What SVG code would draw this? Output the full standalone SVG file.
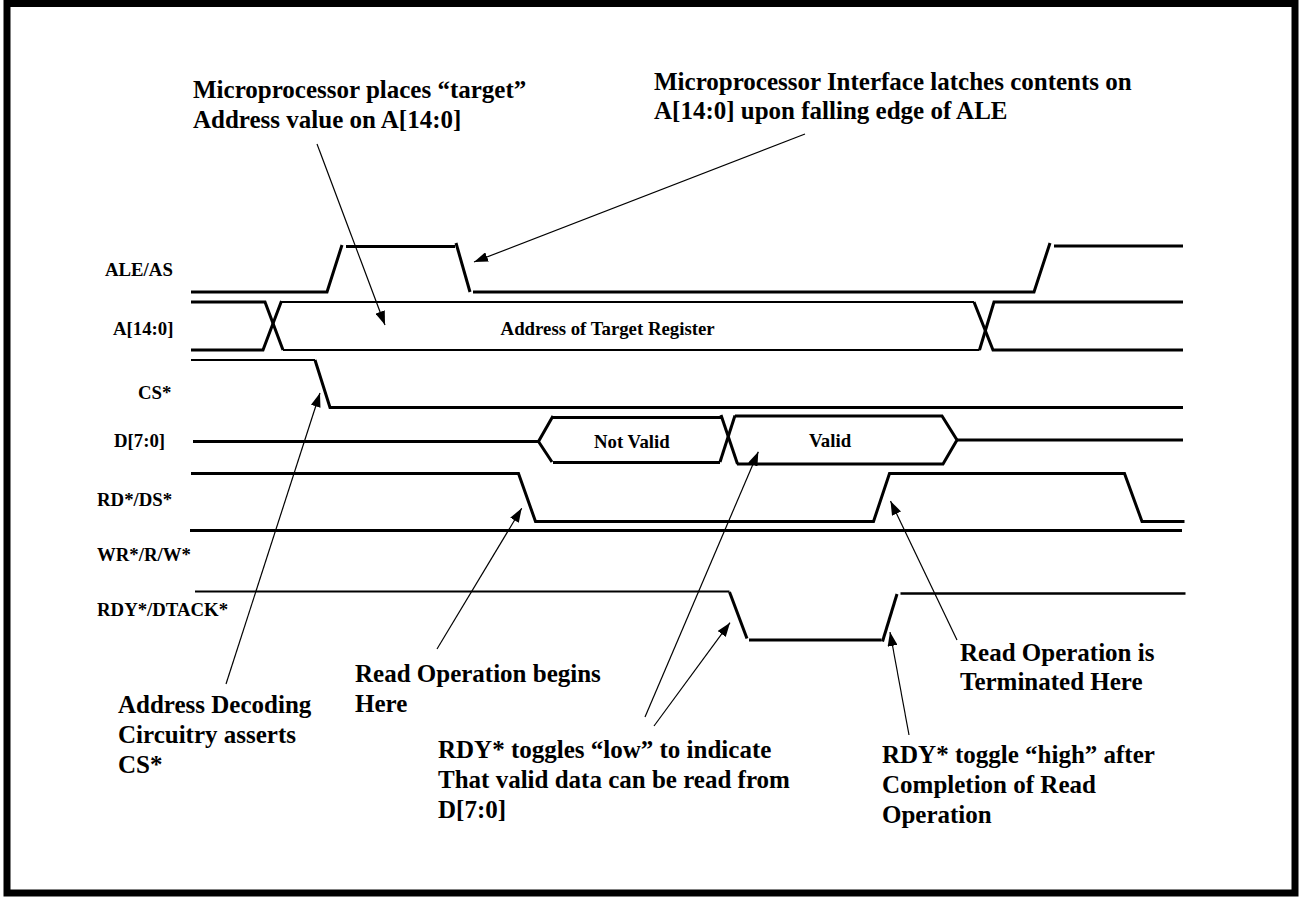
<svg xmlns="http://www.w3.org/2000/svg" width="1299" height="897" viewBox="0 0 1299 897">
<style>
.frame{fill:#fff;stroke:#000;stroke-width:7}
.sig{fill:none;stroke:#000;stroke-width:3;stroke-linejoin:miter;stroke-linecap:butt}
.thin{stroke-width:2.2}
.ptr{fill:none;stroke:#000;stroke-width:1.2;marker-end:url(#ah)}
text{font-family:"Liberation Serif","Times New Roman",serif;font-weight:bold;fill:#000}
.big{font-size:25px}
.lbl{font-size:18.8px}
</style>
<defs>
<marker id="ah" markerUnits="userSpaceOnUse" markerWidth="14" markerHeight="10" refX="14" refY="5" orient="auto">
<path d="M0,0 L14,5 L0,10 Z" fill="#000"/>
</marker>
</defs>
<rect class="frame" x="7" y="3.5" width="1288" height="889.5"/>

<g id="signal-labels">
<text class="lbl" x="105" y="276">ALE/AS</text>
<text class="lbl" x="113" y="335">A[14:0]</text>
<text class="lbl" x="138" y="399">CS*</text>
<text class="lbl" x="114" y="447">D[7:0]</text>
<text class="lbl" x="97" y="506">RD*/DS*</text>
<text class="lbl" x="97" y="561">WR*/R/W*</text>
<text class="lbl" x="97" y="616">RDY*/DTACK*</text>
</g>

<g id="ale">
<path class="sig" d="M191,292 H327 L342,245"/>
<path class="sig" d="M346,246.5 H455"/>
<path class="sig" d="M456,243 L470,292"/>
<path class="sig" d="M473,292 H1034 L1050,243"/>
<path class="sig" d="M1054,246 H1183"/>
</g>

<g id="addr">
<path class="sig" d="M191,302 H265 L283,350"/>
<path class="sig" d="M191,350 H263 L281.5,301"/>
<path class="sig thin" d="M281.5,302 H974"/>
<path class="sig thin" d="M283,350 H979.5"/>
<path class="sig" d="M974,302 L993,350 H1183"/>
<path class="sig" d="M979.5,350 L994,302 H1183"/>
<text class="lbl" x="500.6" y="335">Address of Target Register</text>
</g>

<g id="cs">
<path class="sig thin" d="M191,360 H315"/>
<path class="sig" d="M315,360 L330,407.5 H1183"/>
</g>

<g id="data">
<path class="sig" d="M193,441.5 H538.5"/>
<path class="sig" d="M553,416 L538.5,441.5 L552,462"/>
<path class="sig" d="M553,417.5 H721"/>
<path class="sig" d="M553,462.5 H720"/>
<path class="sig" d="M721,415 L737.5,464"/>
<path class="sig" d="M720,462 L735,415.5"/>
<path class="sig" d="M735,416 H942 L957,440 L943,464 H737"/>
<path class="sig" d="M957,440 H1183"/>
<text class="lbl" x="594" y="448">Not Valid</text>
<text class="lbl" x="809" y="447">Valid</text>
</g>

<g id="rd">
<path class="sig" d="M191,473.5 H518.5 L535.5,521.5 H873.5 L889.5,473.5 H1124.5 L1142,521.5 H1184.5"/>
</g>

<g id="wr">
<path class="sig" d="M190,530.5 H1182"/>
</g>

<g id="rdy">
<path class="sig thin" d="M195,591.5 H729.5"/>
<path class="sig" d="M729.5,592 L747,638.5"/>
<path class="sig" d="M749,640 H881.5"/>
<path class="sig" d="M882.5,641.5 L897,594"/>
<path class="sig" d="M900.5,593.5 H1185.5" style="stroke-width:2.5"/>
</g>

<g id="note-places">
<text class="big" x="193" y="98">Microprocessor places “target”</text>
<text class="big" x="193" y="128">Address value on A[14:0]</text>
</g>
<g id="note-latches">
<text class="big" x="654" y="90">Microprocessor Interface latches contents on</text>
<text class="big" x="654" y="119">A[14:0] upon falling edge of ALE</text>
</g>
<g id="note-decoding">
<text class="big" x="118" y="713">Address Decoding</text>
<text class="big" x="118" y="743">Circuitry asserts</text>
<text class="big" x="118" y="773">CS*</text>
</g>
<g id="note-begins">
<text class="big" x="355" y="681.5">Read Operation begins</text>
<text class="big" x="355" y="711.5">Here</text>
</g>
<g id="note-low">
<text class="big" x="438" y="758">RDY* toggles “low” to indicate</text>
<text class="big" x="438" y="788">That valid data can be read from</text>
<text class="big" x="438" y="818">D[7:0]</text>
</g>
<g id="note-terminated">
<text class="big" x="960" y="661">Read Operation is</text>
<text class="big" x="960" y="690">Terminated Here</text>
</g>
<g id="note-high">
<text class="big" x="882" y="763">RDY* toggle “high” after</text>
<text class="big" x="882" y="793">Completion of Read</text>
<text class="big" x="882" y="823">Operation</text>
</g>

<g id="connectors">
<path class="ptr" d="M317,144 L385,325"/>
<path class="ptr" d="M805,134 L474,262"/>
<path class="ptr" d="M226,684 L320,393"/>
<path class="ptr" d="M437,649 L521.7,508.3"/>
<path class="ptr" d="M645,717 L758.3,451.7"/>
<path class="ptr" d="M654,726 L730,622.7"/>
<path class="ptr" d="M957,640 L890.5,501"/>
<path class="ptr" d="M909,735 L890,632"/>
</g>
</svg>
